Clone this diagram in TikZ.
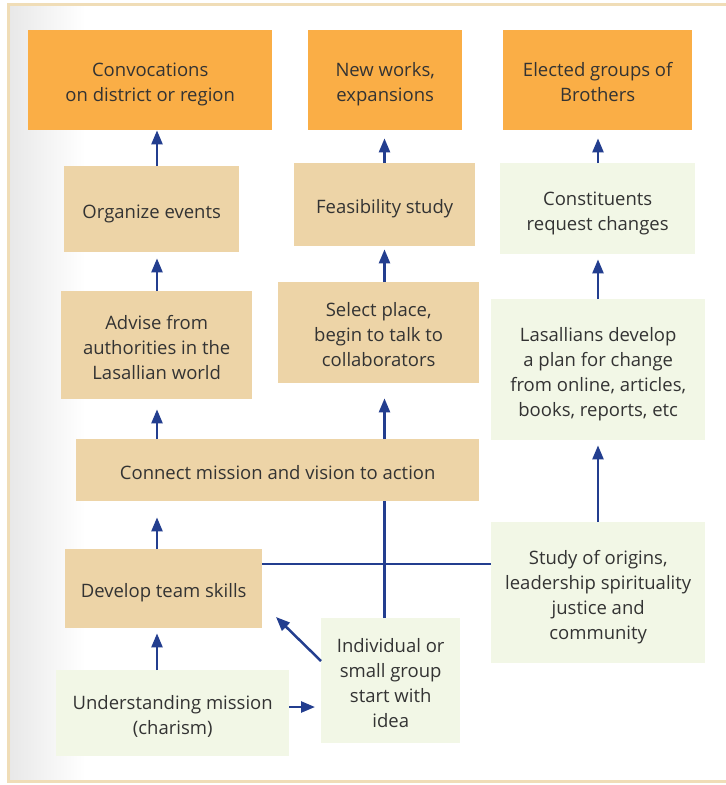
\documentclass[tikz,border=0pt]{standalone}
\usepackage{fontspec}
\setmainfont{Open Sans}
\usetikzlibrary{arrows.meta}
\definecolor{orangebox}{HTML}{FAAE46}
\definecolor{tanbox}{HTML}{EDD4A7}
\definecolor{greenbox}{HTML}{F2F7E6}
\definecolor{navy}{HTML}{233E8F}
\definecolor{txt}{HTML}{333333}
\definecolor{framecol}{HTML}{F0DDB7}
\newcommand{\boxtext}[1]{\begin{tabular}{@{}c@{}}\rule{0pt}{25.5pt}#1\end{tabular}}
\tikzset{
  box/.style={anchor=north west, inner sep=0pt, text=txt,
    font=\fontsize{18.5}{25}\selectfont},
  obox/.style={box, fill=orangebox},
  tbox/.style={box, fill=tanbox},
  gbox/.style={box, fill=greenbox},
  arr/.style={navy, line width=2.5pt, -{Triangle[length=14pt,width=11pt]}},
  ln/.style={navy, line width=2.5pt},
}
\begin{document}
\begin{tikzpicture}[x=1pt,y=-1pt]
\useasboundingbox (0,0) rectangle (726,785);
\clip (0,0) rectangle (726,785);
\fill[white] (0,0) rectangle (726,785);
\shade[left color=black!9, right color=white] (9,6) rectangle (85,780);
\draw[framecol, line width=3pt] (8.5,4.5) rectangle (740,781.5);

% top row
\node[obox, minimum width=244pt, minimum height=100pt] (conv) at (28,30) {\boxtext{Convocations\\on district or region}};
\node[obox, minimum width=154pt, minimum height=100pt] (newk) at (308,30) {\boxtext{New works,\\expansions}};
\node[obox, minimum width=189pt, minimum height=100pt] (elec) at (503,30) {\boxtext{Elected groups of\\Brothers}};
% second row
\node[tbox, minimum width=175pt, minimum height=86pt] (org) at (64,166) {\boxtext{Organize events}};
\node[tbox, minimum width=181pt, minimum height=83pt] (feas) at (294,163) {\boxtext{Feasibility study}};
\node[gbox, minimum width=195pt, minimum height=91pt] (const) at (500,163) {\boxtext{Constituents\\request changes}};
% third row
\node[tbox, minimum width=191pt, minimum height=108pt] (adv) at (61,291) {\boxtext{Advise from\\authorities in the\\Lasallian world}};
\node[tbox, minimum width=201pt, minimum height=101pt] (sel) at (278,282) {\boxtext{Select place,\\begin to talk to\\collaborators}};
\node[gbox, minimum width=214pt, minimum height=141pt] (las) at (491,299) {\boxtext{Lasallians develop\\a plan for change\\from online, articles,\\books, reports, etc}};
% middle
\node[tbox, minimum width=403pt, minimum height=62pt] (conn) at (76,439) {\boxtext{Connect mission and vision to action}};
\node[tbox, minimum width=197pt, minimum height=79pt] (dev) at (65,549) {\boxtext{Develop team skills}};
\node[gbox, minimum width=214pt, minimum height=141pt] (study) at (491,522) {\boxtext{Study of origins,\\leadership spirituality\\justice and\\community}};
\node[gbox, minimum width=139pt, minimum height=125pt] (ind) at (321,618) {\boxtext{Individual or\\small group\\start with\\idea}};
\node[gbox, minimum width=233pt, minimum height=86pt] (und) at (56,670) {\boxtext{Understanding mission\\(charism)}};

% guide coordinates
\coordinate (c1) at (157,0);
\coordinate (c2) at (384.5,0);
\coordinate (c3) at (598,0);
\coordinate (hl) at (0,564);
\coordinate (ua) at (0,707);
\coordinate (dstart) at (321,661);
\coordinate (dtip) at (276,617);

% left column
\draw[arr] (org.north -| c1) -- (conv.south -| c1);
\draw[arr, shorten >=6pt] (adv.north -| c1) -- (org.south -| c1);
\draw[arr, shorten >=10pt] (conn.north -| c1) -- (adv.south -| c1);
\draw[arr, shorten >=16pt] (dev.north -| c1) -- (conn.south -| c1);
\draw[arr, shorten >=5pt] (und.north -| c1) -- (dev.south -| c1);
% middle column
\draw[arr, shorten >=8pt] (feas.north -| c2) -- (newk.south -| c2);
\draw[arr, shorten >=3pt] (sel.north -| c2) -- (feas.south -| c2);
\draw[arr, shorten >=15pt] (conn.north -| c2) -- (sel.south -| c2);
\draw[ln] (ind.north -| c2) -- (conn.south -| c2);
% right column
\draw[arr, shorten >=8pt] (const.north -| c3) -- (elec.south -| c3);
\draw[arr, shorten >=5pt] (las.north -| c3) -- (const.south -| c3);
\draw[arr, shorten >=5pt] (study.north -| c3) -- (las.south -| c3);
% cross connections
\draw[ln] (dev.east |- hl) -- (study.west |- hl);
\draw[arr, shorten >=6pt] (und.east |- ua) -- (ind.west |- ua);
\draw[arr] (dstart) -- (dtip);
\end{tikzpicture}
\end{document}
